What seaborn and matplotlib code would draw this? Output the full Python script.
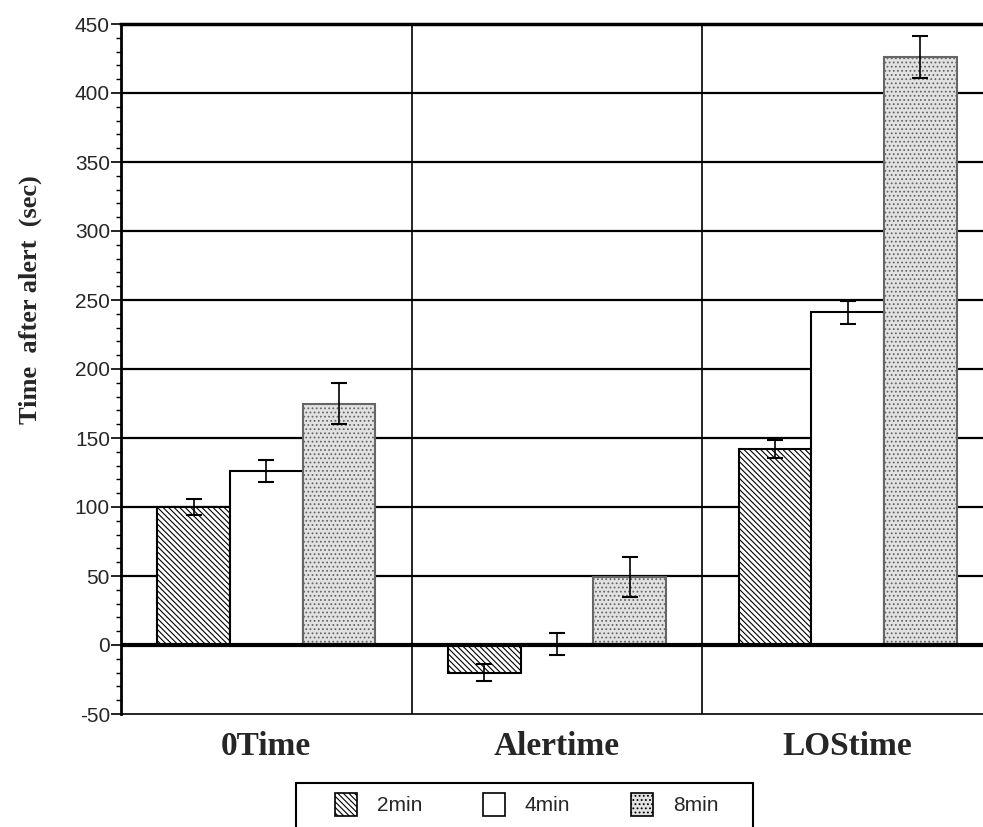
import matplotlib
matplotlib.use("Agg")
import matplotlib.pyplot as plt
import seaborn as sns
import pandas as pd
import numpy as np
from matplotlib.patches import Rectangle
from matplotlib.ticker import MultipleLocator

categories = ["0Time", "Alertime", "LOStime"]
conditions = ["2min", "4min", "8min"]
means = {
    "2min": [100, -20, 142],
    "4min": [126, 1, 241],
    "8min": [175, 49, 426],
}
errors = {
    "2min": [6, 6, 6.5],
    "4min": [8, 8, 8.5],
    "8min": [15, 14.5, 15],
}
yticks = [-50, 0, 50, 100, 150, 200, 250, 300, 350, 400, 450]

rows = []
for c in conditions:
    for i, cat in enumerate(categories):
        rows.append({"category": cat, "condition": c, "value": means[c][i], "err": errors[c][i]})
df = pd.DataFrame(rows)

sns.set_style("white")
plt.rcParams["hatch.linewidth"] = 0.8
plt.rcParams["axes.unicode_minus"] = False

fig = plt.figure(figsize=(9.83, 8.27), dpi=100)
ax = fig.add_axes([121/983, 1-714/827, 1-121/983, (714-24)/827])

face = {"2min": "white", "4min": "white", "8min": "#e2e2e2"}
hatch = {"2min": "\\" * 6, "4min": "", "8min": "...."}

sns.barplot(data=df, x="category", y="value", hue="condition", order=categories,
            hue_order=conditions, width=0.75, gap=0, errorbar=None, ax=ax,
            palette=face, edgecolor="black", linewidth=1.5, legend=False, zorder=3)

for cont, c in zip(ax.containers, conditions):
    for bar, e, v in zip(cont.patches, errors[c], means[c]):
        bar.set_facecolor(face[c])
        bar.set_hatch(hatch[c])
        bar.set_edgecolor("black")
        if c == "8min":
            bar.set_edgecolor("#666666")
        cx = bar.get_x() + bar.get_width() / 2
        ax.errorbar(cx, v, yerr=e, color="black", capsize=6, capthick=1.5,
                    elinewidth=1.2, zorder=5)

ax.set_ylim(-50, 450)
ax.set_xlim(-0.5, 2.5 - 10/290)
ax.set_yticks(yticks)
ax.yaxis.set_minor_locator(MultipleLocator(10))
for y in yticks[2:-1]:
    ax.axhline(y, color="black", lw=1.6, zorder=1)
ax.axhline(0, color="black", lw=3, zorder=4)
for x in [0.5, 1.5]:
    ax.axvline(x, color="black", lw=1.2, zorder=1)

for s in ["right", "bottom"]:
    ax.spines[s].set_visible(False)
ax.spines["top"].set_linewidth(2.5)
ax.spines["left"].set_linewidth(2)
ax.spines["top"].set_color("black")
ax.spines["left"].set_color("black")
ax.axhline(-50, color="black", lw=1.2, zorder=1, clip_on=False)

ax.tick_params(axis="y", which="major", direction="out", length=7, width=1.2, left=True,
               labelsize=15, pad=1, color="black")
ax.tick_params(axis="y", which="minor", direction="out", length=3.5, width=1, left=True, color="black")
for lab in ax.get_yticklabels():
    lab.set_family("Liberation Sans")
ax.tick_params(axis="x", length=0, pad=12)
ax.set_xticks(range(3))
ax.set_xticklabels(categories, family="Liberation Serif", fontweight="bold", fontsize=24)
ax.set_xlabel("")
ax.set_ylabel("Time  after alert  (sec)", family="Liberation Serif", fontweight="bold",
              fontsize=19)
ax.yaxis.set_label_coords((42 - 121) / 862, (714 - 300) / 690)

handles = [Rectangle((0, 0), 1, 1, facecolor=face[c], hatch=hatch[c], edgecolor="black", lw=1.2)
           for c in conditions]
leg = fig.legend(handles, conditions, loc="upper left", bbox_to_anchor=(335/983, 1-793/827),
                 ncol=3, frameon=False, handlelength=1.06, handleheight=1.3,
                 handletextpad=0.96, columnspacing=2.9, borderpad=0, borderaxespad=0,
                 prop={"family": "Liberation Sans", "size": 15})
fig.patches.append(Rectangle((296/983, -0.02), (753-296)/983, 0.02 + 1-783/827,
                             transform=fig.transFigure, fill=False, edgecolor="black", lw=1.5))

fig.savefig("out.png", dpi=100)
